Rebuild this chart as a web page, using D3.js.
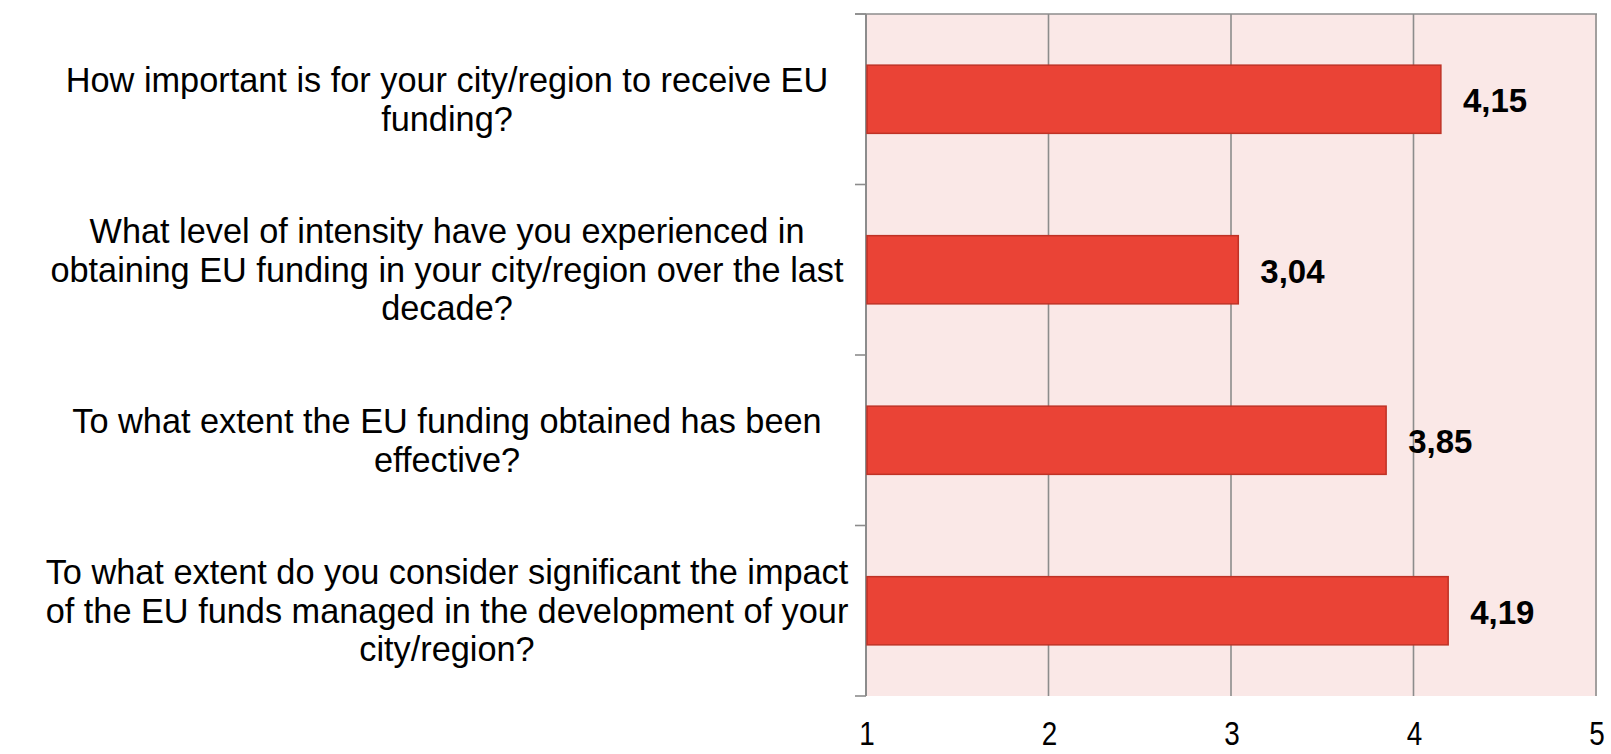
<!DOCTYPE html>
<html>
<head>
<meta charset="utf-8">
<script src="https://cdn.jsdelivr.net/npm/d3@7"></script>
<style>
  html, body { margin: 0; padding: 0; background: #ffffff; }
  svg { display: block; }
</style>
</head>
<body>
<svg id="chart" width="1611" height="754"></svg>
<script>
// ---- data ----
const categories = [
  "How important is for your city/region to receive EU funding?",
  "What level of intensity have you experienced in obtaining EU funding in your city/region over the last decade?",
  "To what extent the EU funding obtained has been effective?",
  "To what extent do you consider significant the impact of the EU funds managed in the development of your city/region?"
];
const categoryLines = [
  ["How important is for your city/region to receive EU", "funding?"],
  ["What level of intensity have you experienced in", "obtaining EU funding in your city/region over the last", "decade?"],
  ["To what extent the EU funding obtained has been", "effective?"],
  ["To what extent do you consider significant the impact", "of the EU funds managed in the development of your", "city/region?"]
];
const values = [4.15, 3.04, 3.85, 4.19];
const valueLabels = ["4,15", "3,04", "3,85", "4,19"];
const xTicks = [1, 2, 3, 4, 5];

// ---- layout ----
const svg = d3.select("#chart");
const plot = { left: 866, right: 1596, top: 14, bottom: 696 };

const x = d3.scaleLinear().domain([1, 5]).range([plot.left, plot.right]);
const y = d3.scaleBand().domain(categories).range([plot.top, plot.bottom])
  .paddingInner(0.6).paddingOuter(0.3);

const gridColor = "#8c8c8c";

// plot background
svg.append("rect")
  .attr("x", plot.left).attr("y", plot.top)
  .attr("width", plot.right - plot.left + 1).attr("height", plot.bottom - plot.top)
  .attr("fill", "#fae8e7");

// vertical gridlines (and right border)
svg.append("g")
  .selectAll("line")
  .data(xTicks.slice(1))
  .join("line")
  .attr("x1", d => x(d)).attr("x2", d => x(d))
  .attr("y1", plot.top).attr("y2", plot.bottom)
  .attr("stroke", gridColor).attr("stroke-width", 1.6);

// top border
svg.append("line")
  .attr("x1", plot.left - 11).attr("x2", plot.right + 1)
  .attr("y1", plot.top).attr("y2", plot.top)
  .attr("stroke", gridColor).attr("stroke-width", 1.6);

// left axis with category boundary ticks
const bounds = categories.map((c, i) => plot.top + i * (plot.bottom - plot.top) / categories.length);
bounds.push(plot.bottom);
svg.append("line")
  .attr("x1", plot.left).attr("x2", plot.left)
  .attr("y1", plot.top).attr("y2", plot.bottom)
  .attr("stroke", gridColor).attr("stroke-width", 2);
svg.append("g")
  .selectAll("line")
  .data(bounds)
  .join("line")
  .attr("x1", plot.left - 11).attr("x2", plot.left)
  .attr("y1", d => d).attr("y2", d => d)
  .attr("stroke", gridColor).attr("stroke-width", 1.6);

// bars
svg.append("g")
  .selectAll("rect")
  .data(values)
  .join("rect")
  .attr("x", x(1) + 1)
  .attr("y", (d, i) => y(categories[i]))
  .attr("width", d => x(d) - x(1) - 1)
  .attr("height", y.bandwidth())
  .attr("fill", "#ea4336")
  .attr("stroke", "#bf3226")
  .attr("stroke-width", 1.5);

// value labels
svg.append("g")
  .selectAll("text")
  .data(values)
  .join("text")
  .attr("x", d => x(d) + 22)
  .attr("y", (d, i) => y(categories[i]) + y.bandwidth() / 2)
  .attr("dy", "0.39em")
  .attr("font-family", "'Liberation Sans', Arial, sans-serif")
  .attr("font-weight", "bold")
  .attr("font-size", 33)
  .attr("fill", "#000")
  .text((d, i) => valueLabels[i]);

// category labels
const labelCenterX = 447;
const lineH = 38.5;
const catG = svg.append("g")
  .attr("font-family", "'Liberation Sans', Arial, sans-serif")
  .attr("font-size", 34.3)
  .attr("fill", "#000")
  .attr("text-anchor", "middle");
categoryLines.forEach((lines, i) => {
  const cy = y(categories[i]) + y.bandwidth() / 2;
  const n = lines.length;
  catG.append("text")
    .selectAll("tspan")
    .data(lines)
    .join("tspan")
    .attr("x", labelCenterX)
    .attr("y", (d, j) => cy + (j - (n - 1) / 2) * lineH)
    .attr("dy", "0.35em")
    .text(d => d);
});

// x tick labels (narrow font)
svg.append("g")
  .selectAll("text")
  .data(xTicks)
  .join("text")
  .attr("transform", d => `translate(${x(d) + 1},745) scale(0.82,1)`)
  .attr("text-anchor", "middle")
  .attr("font-family", "'Liberation Sans', Arial, sans-serif")
  .attr("font-size", 34)
  .attr("fill", "#000")
  .text(d => d);
</script>
</body>
</html>
